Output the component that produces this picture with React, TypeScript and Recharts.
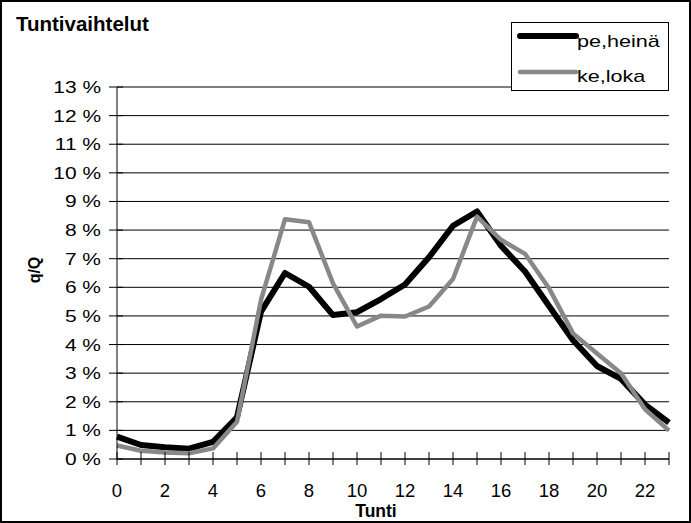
import React from "react";
import { LineChart, Line, XAxis, YAxis, CartesianGrid } from "recharts";

const hours = [0, 1, 2, 3, 4, 5, 6, 7, 8, 9, 10, 11, 12, 13, 14, 15, 16, 17, 18, 19, 20, 21, 22, 23];

// q/Q in percent
const peHeina = [0.78, 0.49, 0.41, 0.36, 0.6, 1.46, 5.15, 6.5, 6.02, 5.03, 5.13, 5.59, 6.1, 7.05, 8.15, 8.65, 7.45, 6.55, 5.35, 4.15, 3.25, 2.8, 1.9, 1.27];
const keLoka = [0.47, 0.29, 0.23, 0.2, 0.37, 1.3, 5.56, 8.38, 8.27, 6.14, 4.63, 5.01, 4.98, 5.33, 6.29, 8.47, 7.66, 7.17, 5.97, 4.39, 3.69, 3.0, 1.74, 0.99];

const yTicks = [0, 1, 2, 3, 4, 5, 6, 7, 8, 9, 10, 11, 12, 13];
const xTicks = hours;

const series = [
  { key: "pe", name: "pe,heinä", color: "#000000", width: 6 },
  { key: "ke", name: "ke,loka", color: "#888888", width: 4.5 },
];

const rows = hours.map((h, i) => ({ h, pe: peHeina[i], ke: keLoka[i] }));

const FONT = '"Liberation Sans", Arial, sans-serif';

function XTick(props: any) {
  const { x, y, payload } = props;
  const v = payload.value;
  return (
    <g>
      <line x1={x} x2={x} y1={y - 7} y2={y + 6} stroke="#000" />
      {v % 2 === 0 && (
        <text x={x} y={y + 38} textAnchor="middle" fontSize={18.5} fontFamily={FONT} fill="#000">
          {v}
        </text>
      )}
    </g>
  );
}

function YTick(props: any) {
  const { x, y, payload } = props;
  return (
    <g>
      <line x1={x - 8} x2={x + 6} y1={y} y2={y} stroke="#000" />
      <text
        textAnchor="end"
        fontSize={16.5}
        fontFamily={FONT}
        fill="#000"
        transform={`translate(${x - 16}, ${y + 6}) scale(1.27, 1)`}
      >
        {`${payload.value} %`}
      </text>
    </g>
  );
}

export default function App() {
  return (
    <div style={{ position: "absolute", left: 0, top: 0, width: 691, height: 523, background: "#fff" }}>
      <LineChart width={691} height={523} data={rows} margin={{ top: 87, right: 22, bottom: 0, left: 0 }}>
        <CartesianGrid vertical={false} stroke="#000" strokeWidth={1} />
        <XAxis
          dataKey="h"
          type="number"
          domain={[0, 23]}
          ticks={xTicks}
          interval={0}
          height={64}
          tickSize={0}
          tickMargin={0}
          tickLine={false}
          axisLine={{ stroke: "#000" }}
          tick={<XTick />}
        />
        <YAxis
          type="number"
          domain={[0, 13]}
          ticks={yTicks}
          interval={0}
          width={117}
          tickSize={0}
          tickMargin={0}
          tickLine={false}
          axisLine={{ stroke: "#000" }}
          tick={<YTick />}
        />
        {series.map((s) => (
          <Line
            key={s.key}
            type="linear"
            dataKey={s.key}
            name={s.name}
            stroke={s.color}
            strokeWidth={s.width}
            strokeLinejoin="round"
            dot={false}
            activeDot={false}
            isAnimationActive={false}
          />
        ))}
      </LineChart>
      <svg
        width={691}
        height={523}
        style={{ position: "absolute", left: 0, top: 0, pointerEvents: "none" }}
        fontFamily={FONT}
      >
        <text x={16} y={31} fontSize={20.5} fontWeight="bold" fill="#000">
          Tuntivaihtelut
        </text>
        <text x={40} y={270} fontSize={16} fontWeight="bold" textAnchor="middle" transform="rotate(-90, 40, 270)">
          q/Q
        </text>
        <text x={376} y={517} fontSize={17.5} fontWeight="bold" textAnchor="middle">
          Tunti
        </text>
        <rect x={511.5} y={22.5} width={157} height={68} fill="#fff" stroke="#000" strokeWidth={1} />
        {series.map((s, i) => (
          <g key={s.key}>
            <line
              x1={520}
              x2={576}
              y1={36 + i * 36}
              y2={36 + i * 36}
              stroke={s.color}
              strokeWidth={s.width}
              strokeLinecap="round"
            />
            <text fontSize={17} fill="#000" transform={`translate(577, ${47 + i * 35}) scale(1.27, 1)`}>
              {s.name}
            </text>
          </g>
        ))}
        <rect x={1} y={1} width={689} height={521} fill="none" stroke="#000" strokeWidth={2} />
      </svg>
    </div>
  );
}
